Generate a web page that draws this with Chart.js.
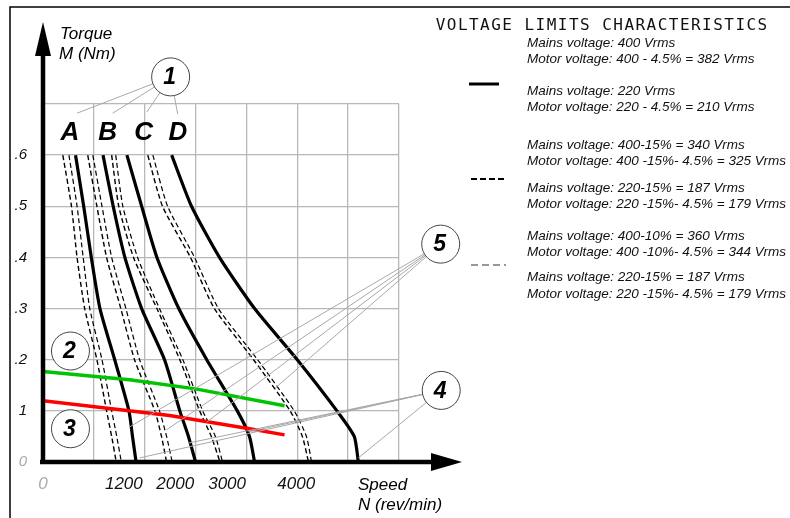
<!DOCTYPE html>
<html>
<head>
<meta charset="utf-8">
<style>
  html, body { margin: 0; padding: 0; background: #fff; }
</style>
<script src="https://cdn.jsdelivr.net/npm/chart.js@4.4.0/dist/chart.umd.min.js"></script>
</head>
<body>
<canvas id="chart" width="790" height="518"></canvas>
<script>
const torque = [0.6, 0.5, 0.4, 0.3, 0.2, 0.1, 0.05, 0];

// Speed of each curve at those torque levels, in grid columns
const speedA = [0.64, 0.80, 0.95, 1.12, 1.41, 1.69, 1.76, 1.83];
const speedA15 = [0.39, 0.56, 0.67, 0.82, 1.06, 1.25, 1.35, 1.44];
const speedA10 = [0.51, 0.67, 0.79, 0.92, 1.16, 1.35, 1.45, 1.54];
const speedB = [1.18, 1.38, 1.61, 1.94, 2.39, 2.69, 2.86, 3.00];
const speedB15 = [0.88, 1.06, 1.25, 1.53, 1.80, 2.20, 2.33, 2.43];
const speedB10 = [0.98, 1.16, 1.35, 1.63, 1.90, 2.29, 2.43, 2.54];
const speedC = [1.65, 1.94, 2.24, 2.67, 3.22, 3.82, 4.06, 4.16];
const speedC15 = [1.35, 1.49, 1.78, 2.24, 2.69, 3.08, 3.31, 3.48];
const speedC10 = [1.43, 1.57, 1.86, 2.29, 2.75, 3.14, 3.39, 3.53];
const speedD = [2.53, 2.92, 3.47, 4.16, 5.00, 5.78, 6.12, 6.20];
const speedD15 = [2.06, 2.35, 2.90, 3.37, 4.14, 4.86, 5.10, 5.22];
const speedD10 = [2.16, 2.45, 2.98, 3.45, 4.22, 4.94, 5.18, 5.28];

// Load lines (2 = green, 3 = red)
const greenSpeed = [0, 1.7, 3.0, 4.75];
const greenTorque = [0.177, 0.161, 0.143, 0.110];
const redSpeed = [0, 2.49, 4.12, 4.75];
const redTorque = [0.120, 0.091, 0.064, 0.053];

// Ticks
const yTickPos = [0, 0.1, 0.2, 0.3, 0.4, 0.5, 0.6, 0.7];
const yTickLabels = ['0', '1', '.2', '.3', '.4', '.5', '.6', ''];
const xGridPos = [0, 1, 2, 3, 4, 5, 6, 7];
const xTickPos = [0, 1.59, 2.6, 3.62, 4.98];
const xTickLabels = ['0', '1200', '2000', '3000', '4000'];

// Curve letters and numbered callouts
const curveLetters = ['A', 'B', 'C', 'D'];
const letterSpeed = [0.53, 1.27, 1.98, 2.65];
const callouts = [
  { label: '1', x: 2.51, y: 0.753, to: [[0.67, 0.682], [1.37, 0.682], [2.04, 0.684], [2.65, 0.680]] },
  { label: '2', x: 0.54, y: 0.217, to: [] },
  { label: '3', x: 0.54, y: 0.065, to: [] },
  { label: '5', x: 7.82, y: 0.426, to: [[1.71, 0.069], [2.43, 0.063], [3.22, 0.078], [4.57, 0.145]] },
  { label: '4', x: 7.83, y: 0.140, to: [[1.90, 0.008], [2.86, 0.037], [4.04, 0.059], [6.20, 0.008]] }
];

const legendBlocks = [
  ['Mains voltage: 400 Vrms', 'Motor voltage: 400 - 4.5% = 382 Vrms', 'Mains voltage: 220 Vrms', 'Motor voltage: 220 - 4.5% = 210 Vrms'],
  ['Mains voltage: 400-15% = 340 Vrms', 'Motor voltage: 400 -15%- 4.5% = 325 Vrms', 'Mains voltage: 220-15% = 187 Vrms', 'Motor voltage: 220 -15%- 4.5% = 179 Vrms'],
  ['Mains voltage: 400-10% = 360 Vrms', 'Motor voltage: 400 -10%- 4.5% = 344 Vrms', 'Mains voltage: 220-15% = 187 Vrms', 'Motor voltage: 220 -15%- 4.5% = 179 Vrms']
];

const FONT = '"Liberation Sans", Arial, sans-serif';

function pts(xs, ys) {
  return xs.map((x, i) => ({ x: x, y: ys[i] }));
}

function curve(speed, kind) {
  const ds = { data: pts(speed, torque), borderColor: '#000', fill: false, tension: 0.2 };
  if (kind === 'nominal') { ds.borderWidth = 3.2; }
  if (kind === 'low15') { ds.borderWidth = 1.4; ds.borderDash = [5, 3]; }
  if (kind === 'low10') { ds.borderWidth = 1.2; ds.borderDash = [5, 3]; }
  return ds;
}

const datasets = [
  { data: pts(greenSpeed, greenTorque), borderColor: '#00c400', borderWidth: 3.5, tension: 0 },
  { data: pts(redSpeed, redTorque), borderColor: '#ff0000', borderWidth: 3.5, tension: 0 },
  curve(speedA, 'nominal'), curve(speedA15, 'low15'), curve(speedA10, 'low10'),
  curve(speedB, 'nominal'), curve(speedB15, 'low15'), curve(speedB10, 'low10'),
  curve(speedC, 'nominal'), curve(speedC15, 'low15'), curve(speedC10, 'low10'),
  curve(speedD, 'nominal'), curve(speedD15, 'low15'), curve(speedD10, 'low10')
];

// Everything that is not a data mark: arrows, titles, callouts, legend
const decor = {
  id: 'decor',
  afterDraw(chart) {
    const ctx = chart.ctx;
    const sx = chart.scales.x, sy = chart.scales.y;
    const px = v => sx.getPixelForValue(v);
    const py = v => sy.getPixelForValue(v);
    const x0 = px(0), y0 = py(0);

    ctx.save();

    // frame
    ctx.strokeStyle = '#000';
    ctx.lineWidth = 1.5;
    ctx.beginPath();
    ctx.moveTo(10, 518);
    ctx.lineTo(10, 7);
    ctx.lineTo(790, 7);
    ctx.stroke();

    // callout leader lines
    ctx.strokeStyle = '#a8a8a8';
    ctx.lineWidth = 1;
    callouts.forEach(c => {
      c.to.forEach(t => {
        ctx.beginPath();
        ctx.moveTo(px(c.x), py(c.y));
        ctx.lineTo(px(t[0]), py(t[1]));
        ctx.stroke();
      });
    });

    // callout circles
    callouts.forEach(c => {
      const cx = px(c.x), cy = py(c.y);
      ctx.beginPath();
      ctx.arc(cx, cy, 19, 0, Math.PI * 2);
      ctx.fillStyle = '#fff';
      ctx.fill();
      ctx.strokeStyle = '#444';
      ctx.lineWidth = 1;
      ctx.stroke();
      ctx.fillStyle = '#000';
      ctx.font = 'italic bold 23px ' + FONT;
      ctx.textAlign = 'center';
      ctx.textBaseline = 'middle';
      ctx.fillText(c.label, cx - 1, cy + 1);
    });

    // curve letters
    ctx.font = 'italic bold 26px ' + FONT;
    curveLetters.forEach((l, i) => {
      ctx.fillText(l, px(letterSpeed[i]), py(0.645) + 1);
    });

    // axes with arrow heads
    ctx.strokeStyle = '#000';
    ctx.fillStyle = '#000';
    ctx.lineWidth = 4.5;
    ctx.beginPath();
    ctx.moveTo(x0, y0 + 2);
    ctx.lineTo(x0, 50);
    ctx.moveTo(x0 - 3, y0);
    ctx.lineTo(435, y0);
    ctx.stroke();
    ctx.beginPath();
    ctx.moveTo(x0, 22);
    ctx.lineTo(x0 - 8, 56);
    ctx.lineTo(x0 + 8, 56);
    ctx.closePath();
    ctx.fill();
    ctx.beginPath();
    ctx.moveTo(462, y0);
    ctx.lineTo(431, y0 - 9);
    ctx.lineTo(431, y0 + 9);
    ctx.closePath();
    ctx.fill();

    // axis titles
    ctx.font = 'italic 17px ' + FONT;
    ctx.textAlign = 'left';
    ctx.textBaseline = 'alphabetic';
    ctx.fillText('Torque', 60, 39);
    ctx.fillText('M (Nm)', 59, 59);
    ctx.fillText('Speed', 358, 490);
    ctx.fillText('N (rev/min)', 358, 510);

    // title, spaced like a stroke font
    const title = 'VOLTAGE LIMITS CHARACTERISTICS';
    ctx.font = '16px "DejaVu Sans Mono", monospace';
    ctx.textAlign = 'center';
    ctx.fillStyle = '#111';
    for (let i = 0; i < title.length; i++) {
      ctx.fillText(title[i], 435 + 11.1 * i + 5.5, 30);
    }

    // legend samples
    ctx.strokeStyle = '#000';
    ctx.lineWidth = 3;
    ctx.beginPath();
    ctx.moveTo(469, 84);
    ctx.lineTo(499, 84);
    ctx.stroke();
    ctx.lineWidth = 2;
    ctx.setLineDash([6, 3]);
    ctx.beginPath();
    ctx.moveTo(471, 179);
    ctx.lineTo(506, 179);
    ctx.stroke();
    ctx.lineWidth = 1;
    ctx.strokeStyle = '#333';
    ctx.setLineDash([7, 4]);
    ctx.beginPath();
    ctx.moveTo(471, 265);
    ctx.lineTo(506, 265);
    ctx.stroke();
    ctx.setLineDash([]);

    // legend text
    const rows = [[43.5, 59, 91.5, 107.5], [145, 161.5, 188, 204], [236, 252, 277.5, 294]];
    ctx.font = 'italic 13.5px ' + FONT;
    ctx.fillStyle = '#111';
    ctx.textAlign = 'left';
    ctx.textBaseline = 'middle';
    legendBlocks.forEach((block, b) => {
      block.forEach((line, i) => ctx.fillText(line, 527, rows[b][i]));
    });

    ctx.restore();
  }
};

new Chart(document.getElementById('chart'), {
  type: 'line',
  data: { datasets: datasets },
  options: {
    responsive: false,
    animation: false,
    devicePixelRatio: 1,
    layout: { padding: { left: 0, right: 391, top: 104, bottom: 0 } },
    plugins: { legend: { display: false }, tooltip: { enabled: false } },
    elements: { point: { radius: 0 } },
    scales: {
      x: {
        type: 'linear', min: 0, max: 7,
        afterBuildTicks: a => { a.ticks = xGridPos.map(v => ({ value: v })); },
        afterFit: s => { s.height = 0; },
        ticks: { display: false },
        grid: { color: '#b8b8b8', lineWidth: 1.3, drawTicks: false },
        border: { display: false }
      },
      xl: {
        type: 'linear', position: 'bottom', min: 0, max: 7,
        afterBuildTicks: a => { a.ticks = xTickPos.map(v => ({ value: v })); },
        afterFit: s => { s.height = 56; },
        grid: { display: false, drawTicks: false },
        border: { display: false },
        ticks: {
          autoSkip: false, maxRotation: 0, padding: 12,
          font: { family: FONT, size: 17, style: 'italic' },
          color: c => c.index === 0 ? '#aaa' : '#111',
          callback: (v, i) => xTickLabels[i]
        }
      },
      y: {
        type: 'linear', min: 0, max: 0.7,
        afterBuildTicks: a => { a.ticks = yTickPos.map(v => ({ value: v })); },
        afterFit: s => { s.width = 43; },
        grid: { color: '#b8b8b8', lineWidth: 1.3, drawTicks: false },
        border: { display: false },
        ticks: {
          padding: 16,
          font: { family: FONT, size: 15, style: 'italic' },
          color: c => c.index === 0 ? '#aaa' : '#111',
          callback: (v, i) => yTickLabels[i]
        }
      }
    }
  },
  plugins: [decor]
});
</script>
</body>
</html>
